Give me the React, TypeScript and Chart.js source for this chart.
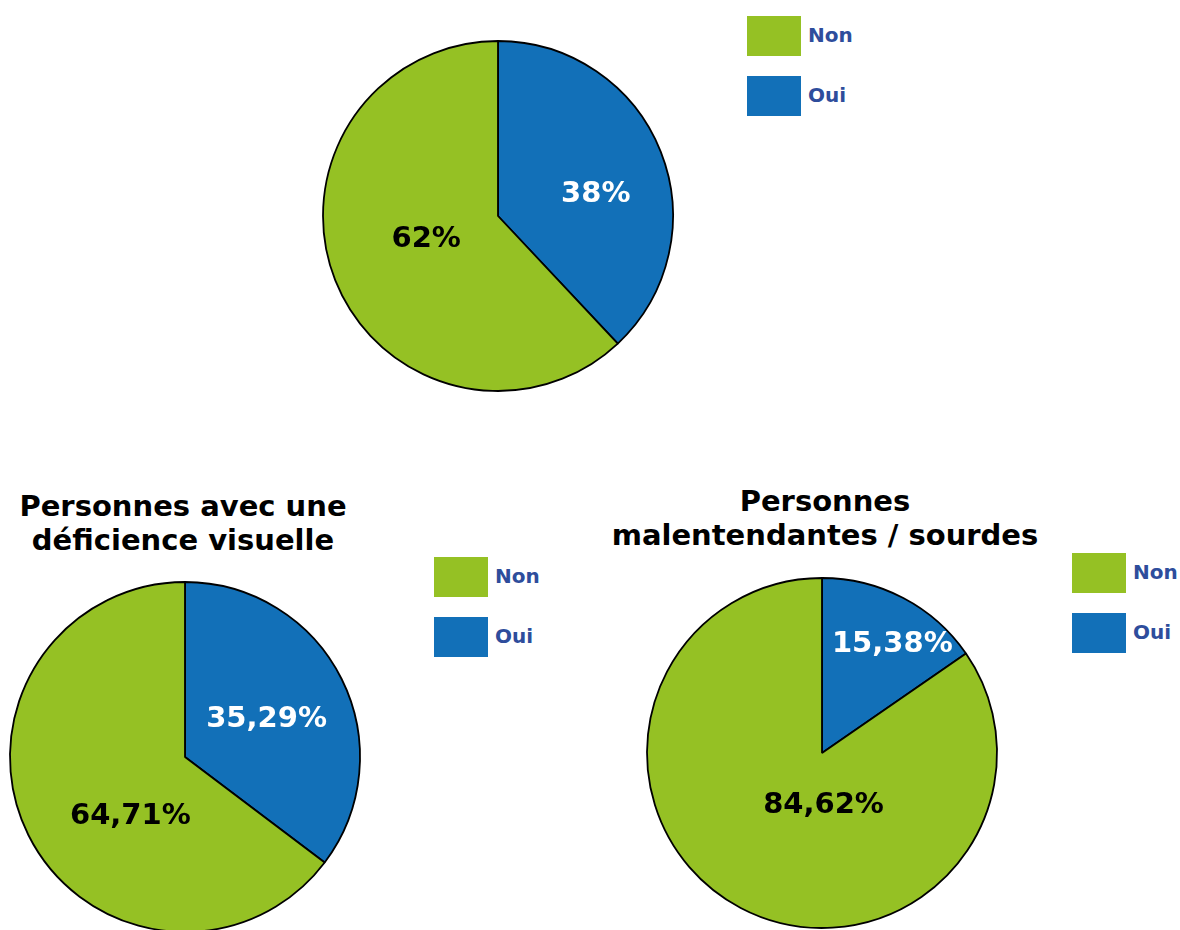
import React, { useEffect, useRef } from "react";
import { Chart, registerables } from "chart.js";

Chart.register(...registerables);

// ---- Data ----
const categories = ["Non", "Oui"];
const valuesEnsemble = [62, 38];
const valuesVisuelle = [64.71, 35.29];
const valuesAuditive = [84.62, 15.38];
const titleVisuelle = ["Personnes avec une", "déficience visuelle"];
const titleAuditive = ["Personnes", "malentendantes / sourdes"];

// ---- Styles ----
const GREEN = "#95C124";
const BLUE = "#1270B8";
const LEGEND_TEXT = "#2E4D9C";
const FONT = "'DejaVu Sans', Verdana, sans-serif";

const fmt = (v: number) => String(v).replace(".", ",") + "%";

const pieLabelPlugin = {
  id: "pieLabels",
  afterDatasetsDraw(chart: any, _args: any, opts: any) {
    const ctx = chart.ctx;
    const meta = chart.getDatasetMeta(0);
    const ds = chart.data.datasets[0];
    ctx.save();
    ctx.font = `bold 29px ${FONT}`;
    ctx.textAlign = "center";
    ctx.textBaseline = "middle";
    meta.data.forEach((arc: any, i: number) => {
      const p = arc.getProps(["x", "y", "startAngle", "endAngle", "outerRadius"], true);
      const [dAng, frac] = opts.positions[i];
      const a = (p.startAngle + p.endAngle) / 2 + (dAng * Math.PI) / 180;
      const px = p.x + Math.cos(a) * p.outerRadius * frac;
      const py = p.y + Math.sin(a) * p.outerRadius * frac;
      ctx.fillStyle = opts.colors[i];
      ctx.fillText(fmt(ds.data[i]), px, py + 1);
    });
    ctx.restore();
  },
};

type PieProps = {
  values: number[];
  cx: number;
  cy: number;
  r: number;
  positions: [number, number][];
};

function Pie({ values, cx, cy, r, positions }: PieProps) {
  const ref = useRef<HTMLCanvasElement | null>(null);
  useEffect(() => {
    if (!ref.current) return;
    // slices drawn clockwise from the top: Oui first, then Non
    const order = [1, 0];
    const chart = new Chart(ref.current, {
      type: "pie",
      data: {
        labels: order.map((i) => categories[i]),
        datasets: [
          {
            data: order.map((i) => values[i]),
            backgroundColor: [BLUE, GREEN],
            borderColor: "#000",
            borderWidth: 1.8,
          },
        ],
      },
      options: {
        animation: false,
        responsive: false,
        radius: r,
        layout: { padding: 0 },
        plugins: {
          legend: { display: false },
          tooltip: { enabled: false },
          pieLabels: { positions, colors: ["#FFFFFF", "#000000"] },
        } as any,
      },
      plugins: [pieLabelPlugin],
    });
    return () => chart.destroy();
  }, []);
  return (
    <canvas
      ref={ref}
      width={400}
      height={400}
      style={{ position: "absolute", left: cx - 200, top: cy - 200, width: 400, height: 400 }}
    />
  );
}

function Legend({ left, top }: { left: number; top: number }) {
  const colors = [GREEN, BLUE];
  return (
    <div style={{ position: "absolute", left, top }}>
      {categories.map((c, i) => (
        <div
          key={c}
          style={{
            position: "absolute",
            left: 0,
            top: i * 60,
            display: "flex",
            alignItems: "center",
            whiteSpace: "nowrap",
          }}
        >
          <div style={{ width: 54, height: 40, background: colors[i] }} />
          <span
            style={{
              marginLeft: 7,
              font: `bold 20px ${FONT}`,
              color: LEGEND_TEXT,
              position: "relative",
              top: -1,
            }}
          >
            {c}
          </span>
        </div>
      ))}
    </div>
  );
}

function Title({ lines, cx, top }: { lines: string[]; cx: number; top: number }) {
  return (
    <div
      style={{
        position: "absolute",
        left: cx - 300,
        width: 600,
        top,
        textAlign: "center",
        font: `bold 29px ${FONT}`,
        lineHeight: "34px",
        color: "#000",
      }}
    >
      {lines.map((l) => (
        <div key={l}>{l}</div>
      ))}
    </div>
  );
}

export default function App() {
  return (
    <div
      style={{
        position: "fixed",
        left: 0,
        top: 0,
        width: 1180,
        height: 930,
        overflow: "hidden",
        background: "#fff",
      }}
    >
      <Pie values={valuesEnsemble} cx={498} cy={216} r={175} positions={[[8.4, 0.574], [4.2, 0.43]]} />
      <Legend left={747} top={16} />

      <Title lines={titleVisuelle} cx={183} top={489} />
      <Pie values={valuesVisuelle} cx={185} cy={757} r={175} positions={[[1.1, 0.516], [-20.3, 0.456]]} />
      <Legend left={434} top={557} />

      <Title lines={titleAuditive} cx={825} top={484} />
      <Pie values={valuesAuditive} cx={822} cy={753} r={175} positions={[[5.1, 0.742], [-29.4, 0.293]]} />
      <Legend left={1072} top={553} />
    </div>
  );
}
